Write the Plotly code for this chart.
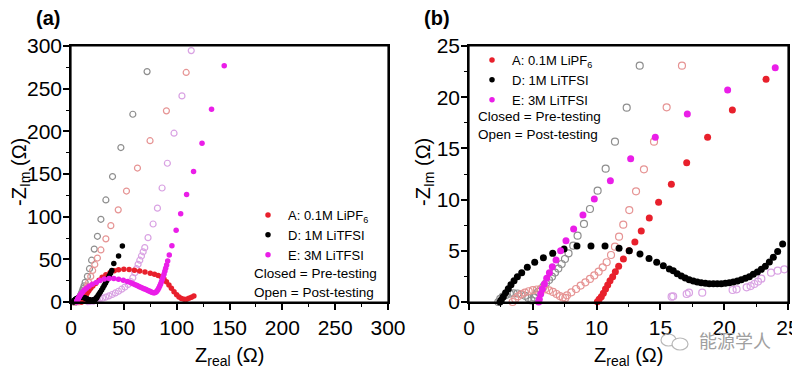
import plotly.graph_objects as go

# ---------------- data (Z_real, -Z_Im) in ohm ----------------
A_closed = [(10.06, 0.03), (10.2, 0.26), (10.37, 0.52), (10.53, 0.85), (10.7, 1.27), (10.87, 1.66),
            (11.05, 2.08), (11.26, 2.47), (11.47, 2.96), (11.73, 3.5), (12.1, 4.2), (12.55, 5.0),
            (13.0, 5.86), (13.5, 6.93), (14.13, 8.2), (14.86, 9.73), (15.86, 11.5), (17.06, 13.6),
            (18.7, 16.1), (20.64, 18.75), (23.28, 21.75), (26.5, 25.5), (29.5, 29), (33, 32),
            (37, 34.5), (41, 36.5), (45, 37.8), (50, 38.3), (55, 38), (60, 37.3), (65, 36.3),
            (70, 35.2), (75, 33.8), (79, 32.5), (82.5, 31.2), (85.5, 29.5), (88, 27), (90.3, 23.8),
            (92.7, 20), (95, 16), (97.5, 12.1), (100, 8.5), (102.2, 6), (104.5, 4.2), (107, 3.1),
            (109.5, 3.3), (111.6, 4.3), (114, 5.5), (116.3, 7)]

D_closed = [(2.43, 0), (2.53, 0.2), (2.69, 0.52), (2.87, 0.91), (3.08, 1.3), (3.29, 1.69), (3.53, 2.08),
            (3.79, 2.47), (4.13, 2.86), (4.57, 3.39), (5.15, 3.87), (5.83, 4.33), (6.56, 4.75),
            (7.45, 5.18), (8.46, 5.47), (9.56, 5.47), (10.66, 5.47), (11.76, 5.24), (12.56, 5.01),
            (13.4, 4.69), (14.11, 4.26), (14.71, 3.87), (15.23, 3.55), (15.7, 3.22), (16.01, 3.06),
            (16.32, 2.77), (16.64, 2.54), (16.95, 2.34), (17.26, 2.18), (17.58, 2.05), (17.89, 1.95),
            (18.2, 1.88), (18.52, 1.82), (18.83, 1.79), (19.15, 1.79), (19.46, 1.79), (19.77, 1.79),
            (20.09, 1.82), (20.4, 1.88), (20.71, 1.95), (21.03, 2.05), (21.34, 2.18), (21.66, 2.31),
            (21.97, 2.47), (22.28, 2.7), (22.6, 2.93), (22.91, 3.19), (23.22, 3.48), (23.54, 3.9),
            (23.85, 4.36), (24.19, 4.92), (24.58, 5.66), (25.6, 7.5), (26.7, 9.6), (27.8, 11.8),
            (29, 14.2), (30.2, 16.7), (31.4, 19.3), (32.6, 22), (33.8, 24.8), (35, 27.7),
            (36.2, 30.7), (37.4, 33.8), (38.6, 37), (40.5, 45), (45, 54), (48.6, 65.6)]

E_closed = [(5.46, 0), (5.51, 0.26), (5.62, 0.78), (5.75, 1.27), (5.91, 1.76), (6.09, 2.31), (6.3, 2.86),
            (6.53, 3.45), (6.82, 4.1), (7.18, 5.01), (7.6, 5.99), (8.2, 7.13), (8.93, 8.5), (9.82, 10.06),
            (11.08, 11.85), (12.67, 14.0), (14.6, 16.08), (17.11, 18.36), (20.27, 20.7), (24.0, 22.88),
            (27.5, 25.3), (31.5, 26.9), (36, 27.5), (40.5, 27.4), (45, 26.8), (49.5, 25.6), (53.5, 24),
            (56.5, 22.6), (58.8, 21.4), (60.8, 20.3), (62.6, 19.3), (64.3, 18.3), (65.9, 17.4),
            (67.5, 16.5), (69, 15.6), (70.5, 14.8), (71.9, 14), (73.3, 13.2), (74.6, 12.5), (75.9, 11.8),
            (77.1, 11.2), (78.2, 10.8), (79.2, 10.7), (80.2, 11.3), (81.2, 12.6), (82.2, 14.4),
            (83.1, 16.5), (84, 18.8), (84.8, 21.2), (85.6, 23.8), (86.4, 26.6), (87.2, 29.5), (88, 32.6),
            (88.8, 36), (89.6, 39.6), (90.5, 43.5), (91.5, 48), (93, 55), (95.5, 66), (99.5, 84),
            (103.8, 103.5), (109.4, 126), (116, 153), (124, 186), (133, 226), (145, 277)]

D_open = [(2.3, 0), (2.45, 0.3), (2.65, 0.52), (2.9, 0.7), (3.2, 0.82), (3.5, 0.85), (3.8, 0.83),
          (4.1, 0.75), (4.4, 0.6), (4.65, 0.4), (4.9, 0.15), (5.1, 0.45), (5.25, 0.72), (5.41, 0.98),
          (5.62, 1.24), (5.83, 1.5), (6.03, 1.82), (6.27, 2.15), (6.5, 2.47), (6.74, 2.87), (7.0, 3.26),
          (7.26, 3.71), (7.52, 4.2), (7.8, 4.75), (8.17, 5.5), (8.51, 6.48), (9.01, 7.62), (9.48, 9.08),
          (10.08, 10.87), (10.71, 13.02), (11.44, 15.66), (12.36, 18.98), (13.38, 23.08), (15.5, 30),
          (17.5, 39), (19.5, 49), (22, 62), (25, 77), (28.3, 96.9), (33, 119.6), (39.3, 147),
          (47.2, 181), (58.5, 220), (72, 270)]

A_open = [(3.42, 0), (3.62, 0.3), (3.85, 0.55), (4.1, 0.76), (4.38, 0.92), (4.68, 1.05), (5.0, 1.15),
          (5.32, 1.22), (5.64, 1.26), (5.96, 1.24), (6.28, 1.14), (6.58, 0.98), (6.86, 0.78),
          (7.12, 0.58), (7.35, 0.44), (7.55, 0.4), (7.68, 0.65), (8.02, 0.94), (8.39, 1.27),
          (8.75, 1.6), (9.12, 1.92), (9.48, 2.25), (9.82, 2.6), (10.16, 2.96), (10.48, 3.39),
          (10.79, 3.88), (11.13, 4.59), (11.44, 5.4), (11.76, 6.38), (12.09, 7.55), (12.56, 8.98),
          (13.09, 10.81), (13.71, 12.96), (14.5, 15.66), (15.49, 19.01), (16.69, 23.08), (18.7, 30),
          (20.5, 37), (22.5, 44), (25, 51.5), (28.3, 61), (33, 74), (37.7, 89.5), (44.7, 108),
          (52.5, 130), (62.9, 157), (74.8, 189), (90.3, 224), (109, 269)]

E_open = [(15.88, 0.52), (16.0, 0.55), (17.06, 0.78), (17.24, 0.91), (18.28, 0.91), (20.66, 1.17),
          (20.97, 1.24), (21.76, 1.43), (22.07, 1.56), (22.36, 1.76), (22.65, 1.99), (22.91, 2.28),
          (23.67, 2.86), (24.19, 3.06), (24.71, 3.19), (27, 3.6), (30, 4.5), (33, 5.8), (36, 7.2),
          (39, 8.8), (42, 10.6), (45, 12.6), (48, 15), (51, 17.5), (54, 20.5), (56.5, 24), (58.5, 28.5),
          (60.4, 34.4), (62, 39), (63.5, 44.2), (65.1, 49), (66.7, 53.9), (68.3, 58.8), (69.8, 63.7),
          (72.9, 75.4), (77.7, 91.4), (81.8, 110), (86.2, 133.6), (91.2, 162.6), (97.5, 197.8),
          (105, 241.5), (113.8, 294.6)]

legend_names = ["A: 0.1M LiPF<sub>6</sub>", "D: 1M LiTFSI", "E: 3M LiTFSI"]
x_ranges = [(0, 300), (0, 25)]
y_ranges = [(0, 300), (0, 25)]
major_steps = [50, 5]
minor_steps = [25, 2.5]

# ---------------- styling ----------------
RED = "#e8202c"
BLACK = "#000000"
MAGENTA = "#ea1ee8"
GRAY_O = "#8e8e8e"
PINK_O = "#e69494"
LILAC_O = "#d9a2e3"
FONT = "Liberation Sans, Arial, sans-serif"

# the page body adds an 8px margin; size the figure so that it ends exactly at 800x369
OFF = 8
W, H = 800 - OFF, 369 - OFF


def px(x):
    """screen pixel x -> paper fraction"""
    return (x - OFF) / W


def py(y):
    """screen pixel y -> paper fraction"""
    return 1 - (y - OFF) / H


fig = go.Figure()

open_series = [(D_open, GRAY_O), (A_open, PINK_O), (E_open, LILAC_O)]
closed_series = [(A_closed, RED, legend_names[0]), (D_closed, BLACK, legend_names[1]),
                 (E_closed, MAGENTA, legend_names[2])]

for k in range(2):
    xa = "x" if k == 0 else "x2"
    ya = "y" if k == 0 else "y2"
    leg = "legend" if k == 0 else "legend2"
    xmax = x_ranges[k][1]
    ymax = y_ranges[k][1]
    msz_f = 5.5 if k == 0 else 7
    msz_o = 6 if k == 0 else 7
    for data, col in open_series:
        pts = [p for p in data if p[0] <= xmax and p[1] <= ymax]
        fig.add_trace(go.Scatter(
            x=[p[0] for p in pts], y=[p[1] for p in pts], mode="markers",
            marker=dict(symbol="circle-open", size=msz_o, color=col, line=dict(width=1.2, color=col)),
            xaxis=xa, yaxis=ya, showlegend=False, cliponaxis=False, hoverinfo="skip"))
    for data, col, name in closed_series:
        pts = [p for p in data if p[0] <= xmax and p[1] <= ymax]
        fig.add_trace(go.Scatter(
            x=[p[0] for p in pts], y=[p[1] for p in pts], mode="markers", name=name,
            marker=dict(symbol="circle", size=msz_f, color=col, line=dict(width=0)),
            xaxis=xa, yaxis=ya, showlegend=False, cliponaxis=False))
    # legend-only entries (small dots as in the figure key)
    for data, col, name in closed_series:
        fig.add_trace(go.Scatter(
            x=[None], y=[None], mode="markers", name=name,
            marker=dict(symbol="circle", size=5.5, color=col, line=dict(width=0)),
            xaxis=xa, yaxis=ya, showlegend=True, legend=leg))

axis_common = dict(showline=True, linecolor="#000000", linewidth=1.5, mirror=True,
                   ticks="outside", ticklen=6, tickwidth=1.5, tickcolor="#000000",
                   showgrid=False, zeroline=False, automargin=False, layer="above traces",
                   tickfont=dict(family=FONT, size=21, color="black"))

ydom = [py(302), py(46)]
minor_x = [dict(dtick=s, ticks="outside", ticklen=3.5, tickwidth=1.2, tickcolor="#000000")
           for s in minor_steps]
fig.update_layout(
    template="none",
    width=W, height=H, margin=dict(l=0, r=0, t=0, b=0, pad=0), autosize=False,
    paper_bgcolor="white", plot_bgcolor="white",
    font=dict(family=FONT, color="black"),
    xaxis=dict(domain=[px(71), px(388)], range=list(x_ranges[0]), dtick=major_steps[0], tick0=0,
               anchor="y", minor=minor_x[0], **axis_common),
    yaxis=dict(domain=ydom, range=list(y_ranges[0]), dtick=major_steps[0], tick0=0, anchor="x",
               minor=minor_x[0], ticklabelstandoff=-3, **axis_common),
    xaxis2=dict(domain=[px(469), px(788)], range=list(x_ranges[1]), dtick=major_steps[1], tick0=0,
                anchor="y2", minor=minor_x[1], **axis_common),
    yaxis2=dict(domain=ydom, range=list(y_ranges[1]), dtick=major_steps[1], tick0=0, anchor="x2",
                minor=minor_x[1], ticklabelstandoff=-3, **axis_common),
    legend=dict(x=px(248), y=py(200), xanchor="left", yanchor="top", bgcolor="rgba(0,0,0,0)",
                font=dict(family=FONT, size=13, color="black"), itemsizing="trace",
                tracegroupgap=0, borderwidth=0),
    legend2=dict(x=px(472), y=py(45), xanchor="left", yanchor="top", bgcolor="rgba(0,0,0,0)",
                 font=dict(family=FONT, size=13, color="black"), itemsizing="trace",
                 tracegroupgap=0, borderwidth=0),
    showlegend=True,
)

P = dict(xref="paper", yref="paper", showarrow=False)
ann = []
# panel labels
ann.append(dict(text="<b>(a)</b>", x=px(48), y=py(18), xanchor="center", yanchor="middle",
                font=dict(size=20, family=FONT), **P))
ann.append(dict(text="<b>(b)</b>", x=px(437), y=py(18), xanchor="center", yanchor="middle",
                font=dict(size=20, family=FONT), **P))
# axis titles
for cx in (229.5, 628.5):
    ann.append(dict(text="Z<sub>real</sub> (Ω)", x=px(cx), y=py(356), xanchor="center", yanchor="middle",
                    font=dict(size=20, family=FONT), **P))
for cx in (20, 424):
    ann.append(dict(text="-Z<sub>Im</sub> (Ω)", x=px(cx), y=py(172), textangle=-90,
                    xanchor="center", yanchor="middle", font=dict(size=20, family=FONT), **P))
# legend notes
for lx, y1, y2 in ((252, 273, 292), (476, 116, 134)):
    ann.append(dict(text="Closed = Pre-testing", x=px(lx), y=py(y1), xanchor="left", yanchor="middle",
                    font=dict(size=13.5, family=FONT), **P))
    ann.append(dict(text="Open = Post-testing", x=px(lx), y=py(y2), xanchor="left", yanchor="middle",
                    font=dict(size=13.5, family=FONT), **P))
# watermark
ann.append(dict(text="能源学人", x=px(735), y=py(340), xanchor="center", yanchor="middle",
                font=dict(size=18, family="Noto Sans CJK SC", color="#a0a0a0"), **P))
fig.update_layout(annotations=ann)

# plot frames (drawn as shapes on each subplot's domain, so the box is always visible)
for xr, yr in (("x domain", "y domain"), ("x2 domain", "y2 domain")):
    fig.add_shape(type="rect", xref=xr, yref=yr, x0=0, x1=1, y0=0, y1=1,
                  line=dict(color="black", width=1.2), fillcolor="rgba(0,0,0,0)", layer="above")

# watermark icon (two speech bubbles)
fig.add_shape(type="circle", xref="paper", yref="paper", x0=px(661), x1=px(676), y0=py(346), y1=py(334),
              line=dict(color="#b8b8b8", width=1.2))
fig.add_shape(type="circle", xref="paper", yref="paper", x0=px(672), x1=px(688), y0=py(350), y1=py(338),
              line=dict(color="#b8b8b8", width=1.2), fillcolor="white")

fig.write_html("out.html")
